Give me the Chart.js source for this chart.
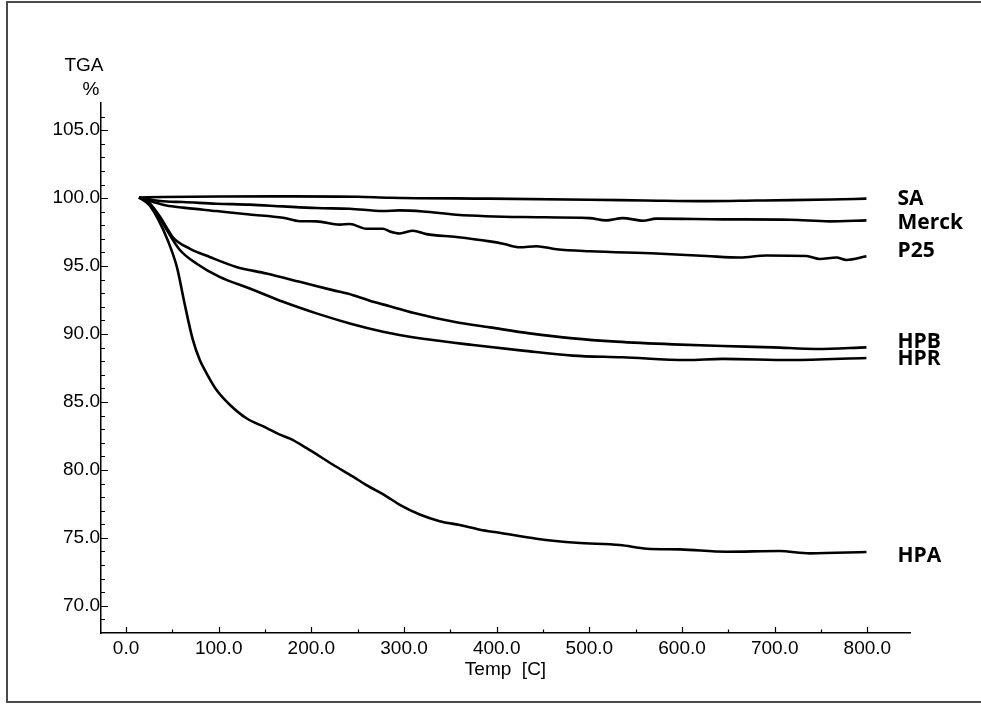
<!DOCTYPE html>
<html>
<head>
<meta charset="utf-8">
<script src="https://cdn.jsdelivr.net/npm/chart.js@4.4.1/dist/chart.umd.min.js"></script>
<style>
  html, body { margin: 0; padding: 0; background: #fff; overflow: hidden; }
  #wrap { position: relative; width: 981px; height: 704px; }
  #frame { position: absolute; left: 6px; top: 1px; width: 990px; height: 698px;
           border-left: 2px solid #4a4a4a; border-top: 2px solid #4a4a4a; border-bottom: 2px solid #4a4a4a; }
  canvas { position: absolute; left: 0; top: 0; }
</style>
</head>
<body>
<div id="wrap">
  <div id="frame"></div>
  <canvas id="c" width="981" height="704"></canvas>
</div>
<script>
// ---- Data (temperature in °C, TGA mass in %) ----
const seriesNames = ["SA", "Merck", "P25", "HPB", "HPR", "HPA"];

const tSA = [14, 40, 100, 180, 250, 285, 392, 500, 560, 626, 680, 717, 760, 799];
const wSA = [100.05, 100.08, 100.12, 100.13, 100.1, 100.03, 99.96, 99.88, 99.83, 99.78, 99.82, 99.85, 99.9, 99.96];

const tMerck = [14, 30, 43.6, 61.5, 97.5, 133.5, 169.4, 205.5, 241.5, 277.3, 295, 320.5, 356.5, 428, 500, 518, 536, 558, 572, 644, 717, 759, 799];
const wMerck = [100.05, 99.85, 99.75, 99.71, 99.59, 99.52, 99.39, 99.27, 99.22, 99.05, 99.1, 99.02, 98.78, 98.61, 98.53, 98.36, 98.53, 98.34, 98.49, 98.44, 98.41, 98.29, 98.36];

const tP25 = [14, 30, 43.6, 61.5, 97.5, 133.5, 169.4, 187.5, 205.5, 230.6, 241.5, 259.4, 277.3, 284.6, 295.4, 309.7, 324.2, 356.5, 392.5, 406.8, 424.8, 442.9, 464.4, 500.4, 572.4, 626.3, 662.3, 691.1, 734.3, 748.7, 766.6, 777.4, 799];
const wP25 = [100.05, 99.7, 99.46, 99.3, 99.05, 98.8, 98.56, 98.3, 98.29, 98.05, 98.1, 97.75, 97.75, 97.55, 97.4, 97.6, 97.35, 97.14, 96.82, 96.65, 96.38, 96.46, 96.24, 96.09, 95.92, 95.74, 95.63, 95.78, 95.74, 95.52, 95.63, 95.45, 95.72];

const tHPB = [14, 25, 36, 45, 50.7, 68.7, 90.3, 119, 151.5, 187.5, 223, 245, 266.6, 284.6, 309.7, 356.5, 392.5, 435.6, 482.4, 529, 590, 644, 698, 745, 799];
const wHPB = [100.05, 99.65, 98.7, 97.7, 97.1, 96.29, 95.67, 94.94, 94.45, 93.84, 93.23, 92.86, 92.37, 92.05, 91.56, 90.86, 90.49, 90.05, 89.68, 89.44, 89.24, 89.12, 89.02, 88.9, 89.02];

const tHPR = [14, 25, 36, 43.6, 57.9, 75.9, 101, 133.5, 169.4, 205.5, 241.5, 277.3, 295, 320.5, 374.5, 428, 482, 536, 605, 644, 717, 799];
const wHPR = [100.05, 99.65, 98.6, 97.7, 96.2, 95.19, 94.2, 93.35, 92.37, 91.52, 90.78, 90.17, 89.93, 89.65, 89.19, 88.78, 88.41, 88.29, 88.09, 88.17, 88.09, 88.24];

const tHPA = [14, 25, 35, 45, 55, 63, 72, 79.5, 87, 97.5, 112, 130, 151.5, 166, 177, 195, 223, 245, 259, 281, 295, 317, 338.5, 360, 382, 403, 443, 486, 533, 562, 598, 648, 705, 738, 799];
const wHPA = [100.05, 99.5, 98.4, 96.9, 94.9, 92.3, 89.6, 88.1, 87.1, 85.9, 84.8, 83.8, 83.1, 82.6, 82.3, 81.6, 80.4, 79.5, 78.9, 78.06, 77.45, 76.72, 76.23, 75.94, 75.6, 75.38, 74.94, 74.64, 74.47, 74.2, 74.15, 73.98, 74.03, 73.86, 73.96];

const xTicks = [0, 100, 200, 300, 400, 500, 600, 700, 800];
const yTicks = [70, 75, 80, 85, 90, 95, 100, 105];
const xRange = [-27, 846];
const yRange = [68, 107];

// ---- Build datasets ----
const seriesT = [tSA, tMerck, tP25, tHPB, tHPR, tHPA];
const seriesW = [wSA, wMerck, wP25, wHPB, wHPR, wHPA];
const datasets = seriesNames.map((name, i) => ({
  label: name,
  data: seriesT[i].map((t, j) => ({ x: t, y: seriesW[i][j] })),
  borderColor: '#000',
  borderWidth: 2.6,
  pointRadius: 0,
  fill: false,
  cubicInterpolationMode: 'monotone'
}));

const tickFont = { family: "'Liberation Sans', Arial, sans-serif", size: 19 };

// end-of-line labels (pixel offsets from the final point)
const endLabels = {
  id: 'endLabels',
  afterDatasetsDraw(chart, args, opts) {
    const ctx = chart.ctx;
    ctx.save();
    ctx.font = "bold 21px 'Open Sans', sans-serif";
    ctx.fillStyle = '#000';
    ctx.textAlign = 'left';
    ctx.textBaseline = 'middle';
    chart.data.datasets.forEach((ds, i) => {
      const last = ds.data[ds.data.length - 1];
      const px = chart.scales.x.getPixelForValue(last.x);
      const py = chart.scales.y.getPixelForValue(last.y);
      ctx.fillText(ds.label, px + opts.dx, py + opts.dy[i]);
    });
    ctx.restore();
  }
};

// inward tick marks and y-axis caption
const axisDecor = {
  id: 'axisDecor',
  afterDraw(chart) {
    const ctx = chart.ctx;
    const xs = chart.scales.x, ys = chart.scales.y;
    const a = chart.chartArea;
    ctx.save();
    ctx.strokeStyle = '#000';
    ctx.lineWidth = 1.2;
    ctx.beginPath();
    for (let v = 0; v <= 800; v += 50) {
      const p = Math.round(xs.getPixelForValue(v)) + 0.5;
      const len = (v % 100 === 0) ? 6 : 3.5;
      ctx.moveTo(p, a.bottom);
      ctx.lineTo(p, a.bottom - len);
    }
    for (let v = 69; v <= 106; v += 1) {
      const p = Math.round(ys.getPixelForValue(v)) + 0.5;
      const len = (v % 5 === 0) ? 7 : 4;
      ctx.moveTo(a.left, p);
      ctx.lineTo(a.left + len, p);
    }
    ctx.stroke();
    ctx.fillStyle = '#000';
    ctx.font = "19px 'Liberation Sans', Arial, sans-serif";
    ctx.textBaseline = 'alphabetic';
    ctx.textAlign = 'center';
    ctx.fillText('TGA', 84, 71);
    ctx.fillText('%', 91, 95);
    ctx.restore();
  }
};

new Chart(document.getElementById('c'), {
  type: 'line',
  data: { datasets },
  options: {
    responsive: false,
    animation: false,
    events: [],
    layout: { padding: { top: 103, right: 71, left: 0, bottom: 0 } },
    plugins: {
      legend: { display: false },
      tooltip: { enabled: false },
      endLabels: { dx: 31, dy: [0.5, 2.5, -4.8, -5.8, 1.2, 4] }
    },
    scales: {
      x: {
        type: 'linear',
        min: xRange[0], max: xRange[1],
        afterBuildTicks: s => { s.ticks = xTicks.map(v => ({ value: v })); },
        afterFit: s => { s.height = 71; },
        grid: { display: false, drawTicks: false },
        border: { display: true, color: '#000', width: 1.5 },
        ticks: { autoSkip: false, maxRotation: 0, padding: 4, color: '#000', font: tickFont,
                 callback: v => Number(v).toFixed(1) },
        title: { display: true, text: 'Temp  [C]', color: '#000', font: tickFont, padding: { top: 0, bottom: 23 } }
      },
      y: {
        type: 'linear',
        min: yRange[0], max: yRange[1],
        afterBuildTicks: s => { s.ticks = yTicks.map(v => ({ value: v })); },
        afterFit: s => { s.width = 101; },
        grid: { display: false, drawTicks: false },
        border: { display: true, color: '#000', width: 1.5 },
        ticks: { autoSkip: false, padding: 1, color: '#000', font: tickFont,
                 callback: v => Number(v).toFixed(1) }
      }
    }
  },
  plugins: [endLabels, axisDecor]
});
</script>
</body>
</html>
